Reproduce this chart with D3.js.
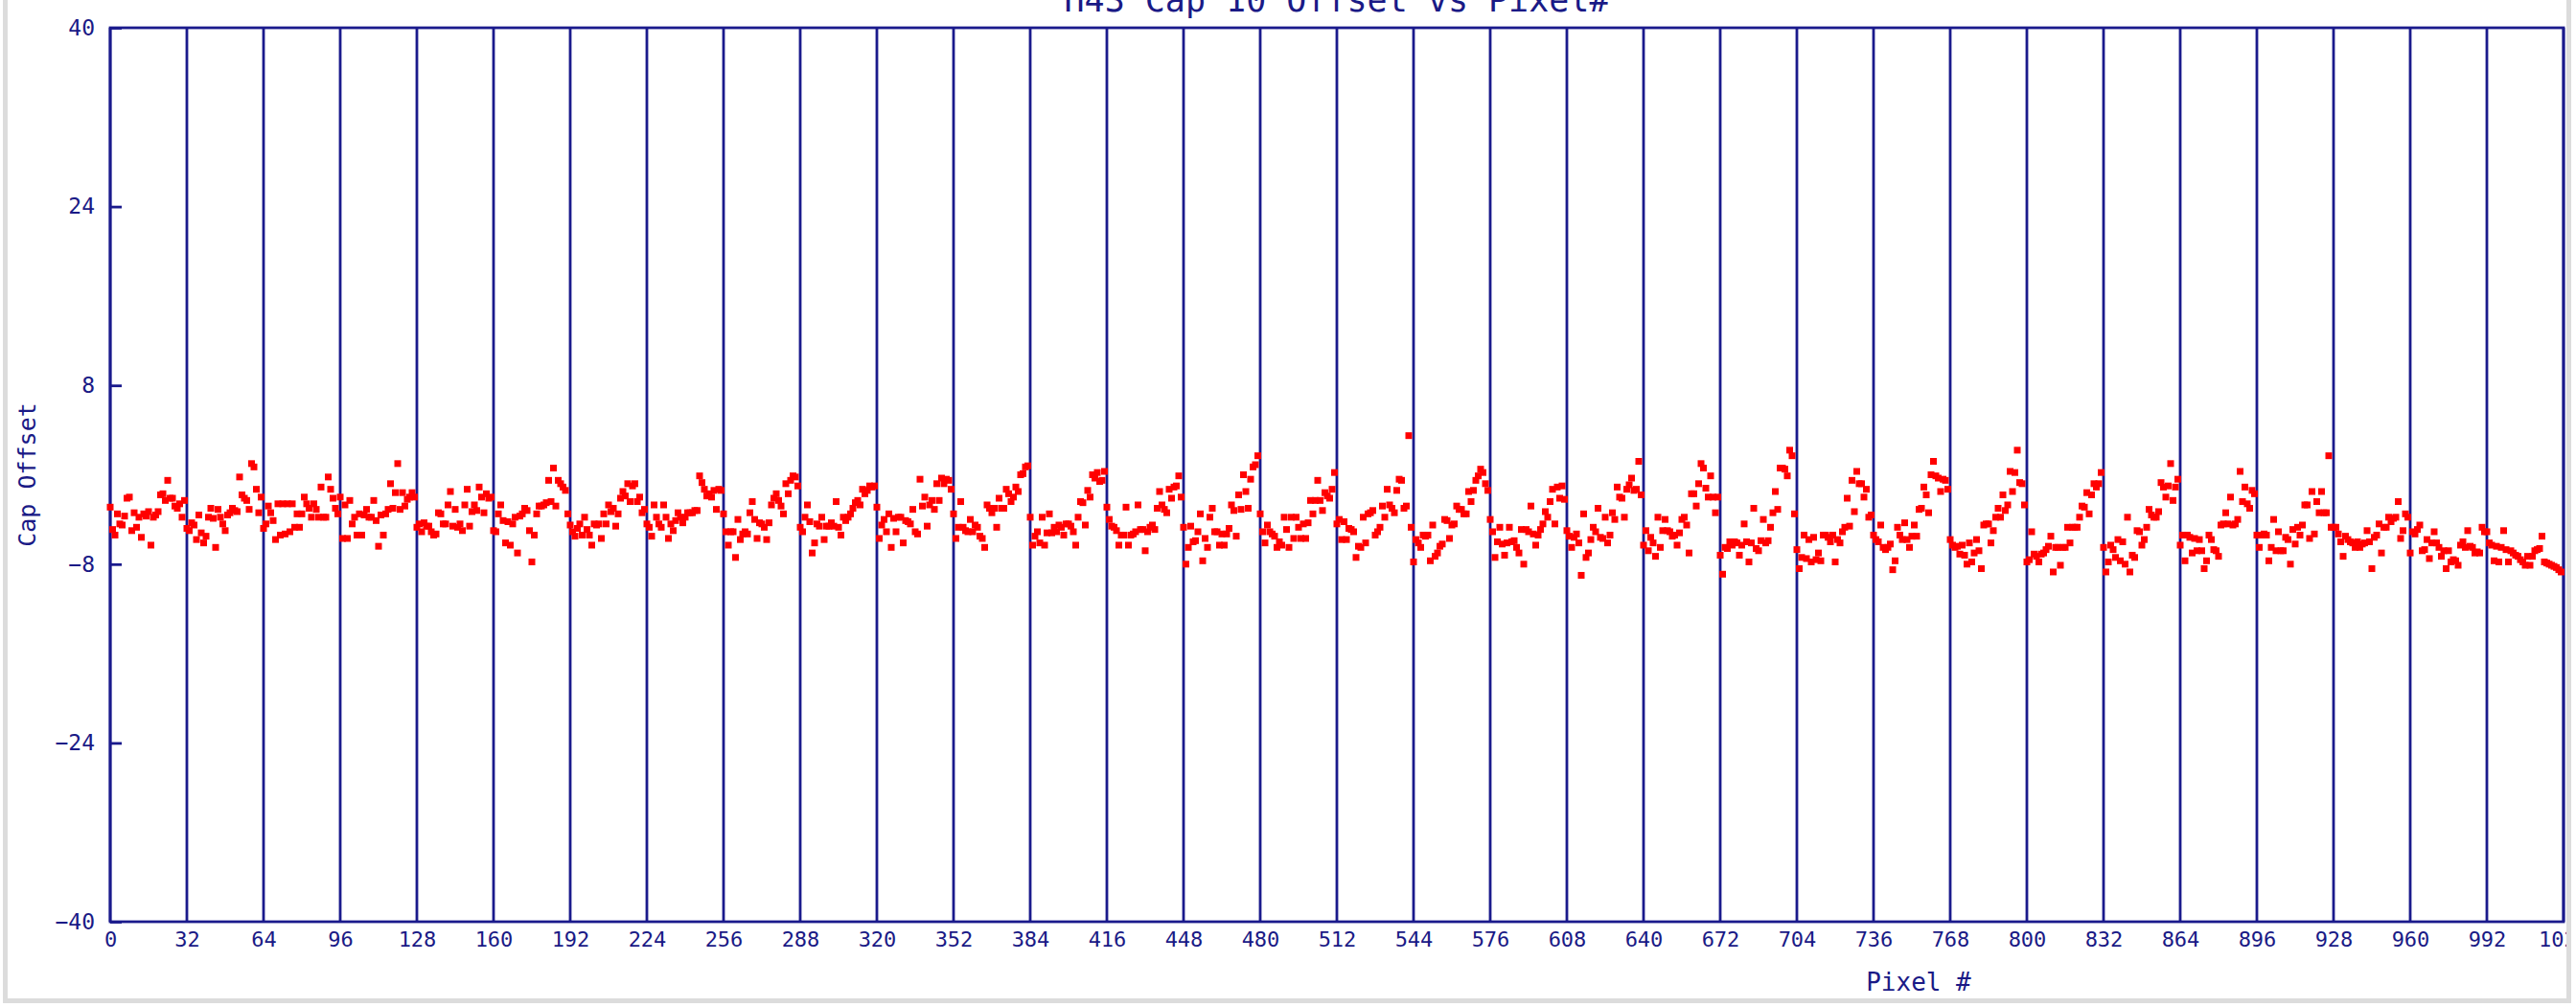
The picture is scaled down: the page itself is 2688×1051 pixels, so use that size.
<!DOCTYPE html>
<html><head><meta charset="utf-8">
<script src="https://cdn.jsdelivr.net/npm/d3@7"></script>
<style>html,body{margin:0;padding:0;background:#fff;overflow:hidden}svg{display:block}</style>
</head><body>
<svg id="chart" width="2688" height="1051"></svg>
<script>
// Cap offset per pixel, one array per 32-pixel block
const seg00 = [-2.9,-4.9,-5.4,-3.5,-4.4,-4.5,-3.7,-2.1,-2.0,-5.0,-3.4,-4.7,-3.8,-5.6,-3.5,-3.7,-3.3,-6.3,-3.8,-3.6,-3.3,-1.8,-1.7,-2.3,-0.5,-2.1,-2.1,-2.8,-3.0,-2.6,-3.8,-2.3];
const seg01 = [-4.8,-5.0,-4.3,-4.5,-5.8,-3.6,-5.2,-6.1,-5.5,-3.8,-3.0,-3.9,-6.5,-3.1,-3.8,-4.4,-5.0,-3.6,-3.4,-3.0,-3.2,-3.3,-0.2,-1.8,-2.1,-2.3,-3.1,1.0,0.7,-1.3,-3.4,-2.0];
const seg02 = [-4.8,-4.4,-2.8,-3.4,-4.1,-5.8,-2.6,-5.4,-2.6,-5.3,-2.6,-5.1,-2.6,-4.7,-3.5,-4.7,-3.5,-2.0,-2.6,-3.0,-3.8,-2.6,-3.1,-3.8,-1.1,-3.8,-3.8,-0.2,-1.3,-2.1,-3.0,-3.5];
const seg03 = [-2.0,-5.7,-2.7,-5.7,-2.3,-4.4,-3.8,-5.4,-3.5,-5.4,-3.6,-3.1,-3.8,-3.8,-2.3,-4.1,-6.4,-3.6,-5.4,-3.5,-3.1,-0.8,-3.0,-1.6,1.0,-3.1,-1.6,-2.8,-2.2,-2.0,-1.6,-2.0];
const seg04 = [-4.7,-4.4,-5.1,-4.3,-4.6,-4.6,-5.1,-5.4,-5.3,-3.4,-3.5,-4.4,-4.4,-2.7,-1.5,-4.6,-3.1,-4.7,-4.4,-5.0,-2.7,-1.3,-4.6,-3.3,-2.7,-3.2,-1.1,-2.0,-3.4,-1.7,-2.1,-2.0];
const seg05 = [-5.0,-5.1,-3.5,-2.7,-4.1,-6.1,-4.2,-6.3,-4.4,-3.8,-7.0,-3.7,-3.5,-3.0,-3.2,-5.0,-7.8,-5.4,-3.5,-2.8,-2.8,-2.7,-2.5,-0.5,-2.4,0.6,-2.8,-0.5,-0.8,-1.1,-1.4,-3.5];
const seg06 = [-4.5,-5.1,-5.5,-4.8,-4.4,-5.4,-3.8,-4.9,-5.4,-6.3,-4.4,-4.5,-4.4,-5.7,-3.5,-4.4,-2.7,-3.3,-3.0,-4.6,-3.5,-2.1,-1.5,-1.9,-0.8,-2.4,-1.0,-0.8,-2.4,-2.0,-3.4,-3.1];
const seg07 = [-4.4,-4.7,-5.5,-2.7,-3.8,-4.4,-4.7,-2.7,-3.8,-5.7,-4.4,-5.0,-4.1,-3.4,-3.8,-4.3,-3.8,-3.4,-3.4,-3.4,-3.2,-3.2,-0.1,-0.7,-1.3,-1.9,-1.7,-2.0,-1.4,-3.1,-1.3,-1.4];
const seg08 = [-3.5,-5.1,-6.3,-5.1,-5.1,-7.4,-4.0,-5.8,-5.3,-5.1,-5.3,-3.4,-2.4,-4.0,-5.7,-4.3,-4.4,-4.7,-5.8,-4.3,-2.7,-2.1,-1.7,-2.3,-2.8,-3.5,-0.8,-1.7,-0.5,-0.1,-0.2,-1.0];
const seg09 = [-4.7,-5.1,-3.8,-2.7,-4.2,-7.0,-6.1,-4.4,-4.6,-3.8,-5.8,-4.6,-4.6,-4.3,-4.6,-2.4,-4.7,-5.4,-3.8,-4.1,-3.8,-3.5,-3.0,-2.5,-2.3,-2.7,-1.3,-1.7,-1.4,-1.0,-1.1,-1.0];
const seg10 = [-2.9,-5.7,-4.5,-4.0,-5.1,-3.5,-6.5,-3.9,-5.1,-3.8,-3.8,-6.1,-4.1,-4.2,-4.4,-3.1,-5.1,-5.3,-0.4,-2.8,-2.0,-4.6,-2.7,-2.3,-3.1,-0.8,-2.3,-0.3,-0.8,-0.4,-0.5,-1.3];
const seg11 = [-3.5,-5.7,-4.7,-2.4,-4.7,-5.0,-5.1,-4.0,-5.1,-4.5,-4.7,-5.5,-5.7,-6.5,-2.7,-3.0,-3.4,-3.0,-4.7,-2.1,-3.0,-3.0,-1.3,-1.7,-2.4,-2.0,-1.1,-1.5,0.0,0.1,0.7,0.8];
const seg12 = [-3.8,-6.3,-5.5,-5.1,-6.1,-3.8,-6.3,-5.2,-3.5,-5.2,-4.7,-5.1,-4.5,-4.7,-5.4,-4.4,-4.4,-4.6,-5.1,-6.3,-3.8,-2.4,-2.5,-4.5,-1.4,-2.0,0.0,-0.3,0.2,-0.6,-0.5,0.3];
const seg13 = [-2.9,-4.0,-4.6,-4.7,-5.0,-6.3,-5.4,-5.4,-2.9,-6.3,-5.4,-5.3,-5.1,-2.7,-4.9,-4.9,-6.8,-5.1,-4.7,-4.5,-4.9,-3.0,-1.5,-2.7,-3.1,-3.4,-1.3,-2.1,-1.1,-1.0,-0.1,-2.0];
const seg14 = [-4.7,-8.0,-6.5,-4.6,-6.0,-5.9,-5.1,-3.5,-7.7,-5.7,-6.5,-3.8,-3.0,-5.1,-5.1,-6.3,-5.3,-6.3,-5.3,-4.8,-2.7,-3.2,-5.5,-1.8,-3.1,0.0,-1.5,-3.0,-0.4,0.7,0.9,1.7];
const seg15 = [-3.5,-5.1,-6.1,-4.5,-5.1,-5.3,-5.5,-6.5,-6.0,-6.3,-3.8,-4.9,-6.5,-3.8,-5.7,-3.8,-4.7,-5.7,-4.4,-5.7,-4.3,-2.3,-3.5,-2.3,-0.5,-2.3,-3.2,-1.6,-1.9,-2.1,-1.3,0.2];
const seg16 = [-4.4,-4.0,-5.8,-4.2,-5.8,-4.8,-4.9,-5.1,-7.4,-6.4,-6.5,-3.8,-6.1,-3.5,-3.4,-3.2,-5.4,-5.1,-4.7,-2.8,-3.8,-1.3,-2.7,-3.0,-3.4,-1.4,-0.4,-0.5,-3.0,-2.8,3.5,-4.7];
const seg17 = [-7.8,-5.8,-6.1,-6.5,-5.4,-5.5,-5.4,-7.7,-4.5,-7.3,-7.0,-6.4,-6.2,-4.0,-4.1,-5.7,-4.5,-4.4,-2.8,-3.1,-3.1,-3.5,-3.5,-1.5,-2.4,-1.4,-0.5,-0.1,0.5,0.2,-0.8,-1.4];
const seg18 = [-4.0,-5.1,-7.4,-6.0,-4.7,-6.2,-7.2,-6.1,-4.7,-6.0,-5.9,-6.5,-7.0,-4.9,-8.0,-4.9,-5.1,-2.8,-5.3,-6.3,-5.4,-4.9,-4.4,-3.3,-3.8,-2.4,-1.3,-4.4,-1.1,-2.1,-1.0,-2.2];
const seg19 = [-5.0,-5.5,-6.5,-5.6,-5.3,-6.1,-9.0,-3.5,-7.4,-7.0,-5.8,-4.7,-5.1,-3.0,-5.6,-5.7,-3.8,-6.1,-5.4,-3.4,-4.0,-1.1,-2.0,-2.1,-3.8,-1.3,-0.9,-0.3,-1.4,-1.3,1.2,-1.8];
const seg20 = [-6.3,-5.0,-6.8,-5.6,-6.1,-7.3,-3.8,-6.5,-5.0,-4.0,-5.0,-5.1,-5.5,-5.4,-6.3,-5.2,-4.0,-3.8,-4.5,-7.0,-1.7,-1.7,-2.8,-0.8,1.0,0.6,-1.2,-2.0,-0.1,-2.0,-3.4,-2.0];
const seg21 = [-7.2,-8.9,-6.5,-6.6,-6.0,-6.3,-6.0,-6.1,-7.2,-6.3,-4.4,-6.0,-7.8,-6.1,-3.0,-6.6,-6.8,-5.9,-4.0,-6.1,-5.9,-4.7,-3.4,-1.5,-3.1,0.6,0.6,0.5,-0.1,2.2,1.7,-3.5];
const seg22 = [-6.7,-8.4,-7.4,-5.4,-7.5,-5.8,-7.8,-5.6,-7.6,-7.0,-7.7,-5.4,-5.4,-5.6,-6.0,-5.4,-7.8,-5.8,-6.1,-5.1,-4.7,-2.1,-4.6,-0.5,-3.3,0.3,-0.8,-0.8,-2.0,-1.3,-3.8,-3.6];
const seg23 = [-5.4,-5.8,-6.0,-4.5,-6.5,-6.7,-6.5,-6.2,-8.5,-7.7,-4.7,-5.4,-5.8,-4.3,-5.8,-6.5,-5.5,-4.5,-5.5,-3.1,-3.0,-1.1,-1.8,-3.4,0.0,1.2,-0.1,-0.3,-1.5,-0.4,-0.5,-1.3];
const seg24 = [-5.8,-6.3,-6.5,-6.4,-7.1,-6.3,-7.2,-8.0,-6.1,-7.8,-7.0,-5.8,-6.8,-8.4,-4.5,-4.4,-4.4,-6.1,-5.0,-3.8,-3.0,-3.8,-1.8,-3.2,-2.7,0.3,-1.5,0.2,2.2,-0.7,-0.8,-2.7];
const seg25 = [-7.8,-7.6,-5.1,-7.1,-7.3,-7.8,-7.1,-7.0,-6.7,-6.4,-5.5,-8.7,-6.5,-6.5,-8.1,-6.5,-6.5,-4.7,-6.1,-4.7,-4.7,-4.7,-3.8,-2.8,-2.9,-1.6,-3.5,-1.8,-0.8,-1.1,-0.8,0.2];
const seg26 = [-6.5,-8.7,-7.8,-6.3,-6.7,-7.4,-5.8,-7.7,-6.0,-8.0,-3.8,-8.7,-7.2,-7.4,-5.0,-5.1,-6.3,-5.8,-4.7,-3.1,-3.6,-3.8,-3.8,-3.3,-0.7,-1.1,-2.0,-1.0,1.0,-2.3,-1.1,-0.4];
const seg27 = [-6.3,-5.4,-7.7,-5.4,-5.6,-7.0,-5.7,-6.8,-5.8,-6.8,-8.4,-7.7,-5.4,-5.8,-6.7,-6.8,-7.3,-4.5,-4.4,-3.4,-4.4,-2.0,-4.5,-4.4,-4.0,0.3,-2.4,-1.1,-2.6,-3.0,-1.4,-1.7];
const seg28 = [-5.4,-6.5,-5.4,-5.3,-5.4,-7.7,-6.5,-4.0,-6.8,-5.1,-6.8,-6.8,-5.6,-5.8,-8.0,-4.9,-6.2,-4.7,-5.4,-4.5,-2.7,-2.7,-5.7,-1.5,-5.3,-2.4,-3.4,-1.5,-3.4,-3.4,1.7,-4.7];
const seg29 = [-4.7,-4.7,-5.3,-6.0,-7.3,-5.5,-5.8,-6.0,-6.1,-6.5,-6.0,-6.5,-6.2,-6.1,-5.0,-6.0,-8.4,-5.6,-5.4,-4.4,-7.0,-4.7,-4.7,-3.8,-4.2,-3.9,-3.8,-2.4,-5.7,-5.0,-3.5,-3.8];
const seg30 = [-7.0,-5.1,-5.3,-4.9,-4.5,-6.8,-6.7,-5.8,-7.5,-6.1,-5.1,-6.1,-6.5,-7.3,-6.8,-8.4,-6.8,-7.8,-7.6,-7.7,-8.1,-6.3,-6.0,-6.5,-5.0,-6.4,-6.5,-7.0,-6.9,-7.0,-4.7,-5.1];
const seg31 = [-5.1,-6.1,-6.3,-7.7,-6.4,-7.8,-6.5,-5.0,-6.7,-7.8,-6.8,-7.0,-7.2,-7.3,-7.6,-7.8,-8.1,-7.3,-8.1,-7.3,-6.8,-6.7,-6.6,-5.5,-7.8,-7.9,-8.0,-8.1,-8.2,-8.3,-8.5,-8.7];

const xTickValues = [0,32,64,96,128,160,192,224,256,288,320,352,384,416,448,480,512,544,576,608,640,672,704,736,768,800,832,864,896,928,960,992,1024];
const yTickValues = [-40,-24,-8,8,24,40];
const chartTitle = "H43 Cap 10 Offset vs Pixel#";
const xTitle = "Pixel #";
const yTitle = "Cap Offset";

const segments = [seg00,seg01,seg02,seg03,seg04,seg05,seg06,seg07,seg08,seg09,seg10,seg11,seg12,seg13,seg14,seg15,
  seg16,seg17,seg18,seg19,seg20,seg21,seg22,seg23,seg24,seg25,seg26,seg27,seg28,seg29,seg30,seg31];
const points = [];
segments.forEach((s, si) => s.forEach((v, k) => points.push({px: si * 32 + k, v})));

const navy = "#1a1a8c";
const textNavy = "#1a1a86";
const font = "'DejaVu Sans Mono', 'Liberation Mono', monospace";
const plot = {left: 115, right: 2675, top: 29, bottom: 962};

const svg = d3.select("#chart");
const x = d3.scaleLinear().domain([0, 1024]).range([plot.left, plot.right]);
const y = d3.scaleLinear().domain([-40, 40]).range([plot.bottom, plot.top]);

svg.append("defs").append("clipPath").attr("id", "clip")
  .append("rect").attr("x", 0).attr("y", 0).attr("width", 2678).attr("height", 1042);

const g = svg.append("g").attr("clip-path", "url(#clip)");

// vertical grid lines at each x tick
g.append("g").selectAll("line").data(xTickValues).join("line")
  .attr("x1", d => x(d)).attr("x2", d => x(d))
  .attr("y1", y(40)).attr("y2", y(-40))
  .attr("stroke", navy).attr("stroke-width", 2.8);

// frame
g.append("rect").attr("x", x(0)).attr("y", y(40))
  .attr("width", x(1024) - x(0)).attr("height", y(-40) - y(40))
  .attr("fill", "none").attr("stroke", navy).attr("stroke-width", 2.8);

// y axis (inward ticks)
const yAxis = g.append("g").attr("transform", `translate(${x(0)},0)`)
  .call(d3.axisLeft(y).tickValues(yTickValues).tickSize(-12).tickPadding(16)
    .tickFormat(d => d < 0 ? "\u2212" + Math.abs(d) : String(d)));
yAxis.select(".domain").remove();
yAxis.selectAll(".tick line").attr("stroke", navy).attr("stroke-width", 2.8);
yAxis.selectAll(".tick text").attr("fill", textNavy).style("font-family", font).style("font-size", "23px");

// x axis labels
const xAxis = g.append("g").attr("transform", `translate(0,${y(-40)})`)
  .call(d3.axisBottom(x).tickValues(xTickValues).tickSize(0).tickPadding(10).tickFormat(d3.format("d")));
xAxis.select(".domain").remove();
xAxis.selectAll(".tick text").attr("fill", textNavy).style("font-family", font).style("font-size", "22px");

// points
g.append("g").selectAll("rect").data(points).join("rect")
  .attr("x", d => x(d.px) - 3.5).attr("y", d => y(d.v) - 3.5)
  .attr("width", 7).attr("height", 7).attr("fill", "#ff0000");

// titles
g.append("text").attr("x", (x(0) + x(1024)) / 2).attr("y", 12)
  .attr("text-anchor", "middle").attr("fill", textNavy)
  .style("font-family", font).style("font-size", "35px").text(chartTitle);
g.append("text").attr("x", 2002).attr("y", 1034)
  .attr("text-anchor", "middle").attr("fill", textNavy)
  .style("font-family", font).style("font-size", "26px").text(xTitle);
g.append("text").attr("transform", `translate(37,${(y(40) + y(-40)) / 2}) rotate(-90)`)
  .attr("text-anchor", "middle").attr("fill", textNavy)
  .style("font-family", font).style("font-size", "25px").text(yTitle);

// container border
const border = svg.append("g").attr("fill", "#dcdcdc");
border.append("rect").attr("x", 3).attr("y", 0).attr("width", 5).attr("height", 1047);
border.append("rect").attr("x", 3).attr("y", 1042).attr("width", 2680).attr("height", 5);
border.append("rect").attr("x", 2678).attr("y", 0).attr("width", 5).attr("height", 1047);
</script>
</body></html>
